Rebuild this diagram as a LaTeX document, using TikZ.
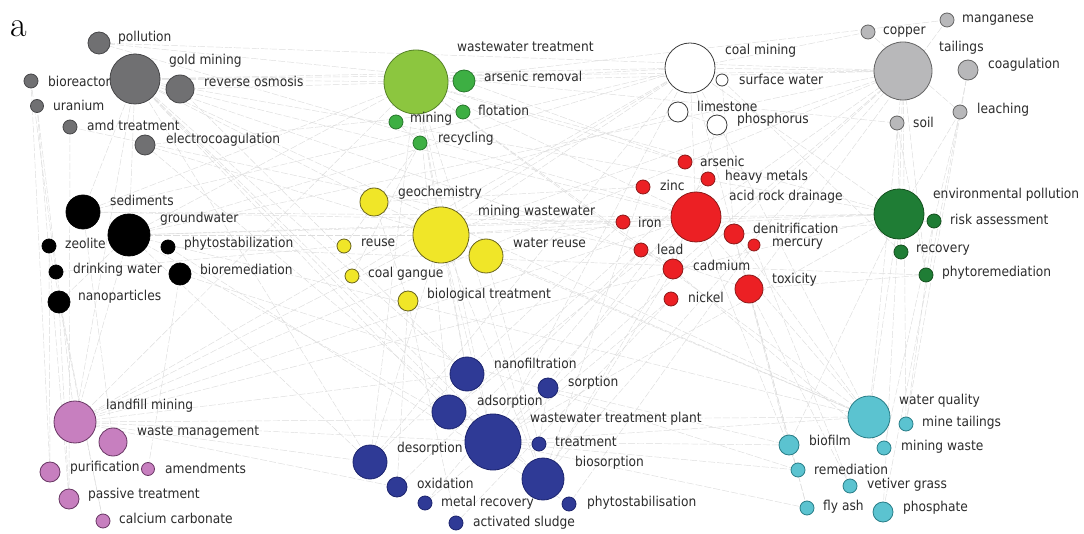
\documentclass[tikz,border=0pt]{standalone}
\usepackage{fontspec}
\setsansfont{DejaVu Sans}[FakeStretch=0.9]
\definecolor{txt}{HTML}{2C2C2C}
\definecolor{edgec}{HTML}{DDDDDD}
\tikzset{
  kw/.style={circle,inner sep=0pt,outer sep=0pt,line width=0.8pt},
  lab/.style={anchor=west,inner sep=0pt,text=txt,font=\sffamily\fontsize{13.6}{15}\selectfont},
  edge/.style={draw=edgec,line width=0.45pt,dash pattern=on 7pt off 2pt},
  gy/.style={kw,fill={rgb,255:red,112;green,112;blue,114},draw={rgb,255:red,70;green,70;blue,72}},
  lgn/.style={kw,fill={rgb,255:red,140;green,198;blue,63},draw={rgb,255:red,85;green,130;blue,40}},
  mgn/.style={kw,fill={rgb,255:red,61;green,175;blue,67},draw={rgb,255:red,40;green,120;blue,45}},
  wh/.style={kw,fill=white,draw={rgb,255:red,60;green,60;blue,60}},
  lgy/.style={kw,fill={rgb,255:red,184;green,184;blue,186},draw={rgb,255:red,100;green,100;blue,100}},
  bk/.style={kw,fill=black,draw=black},
  ye/.style={kw,fill={rgb,255:red,240;green,230;blue,40},draw={rgb,255:red,105;green,100;blue,30}},
  rd/.style={kw,fill={rgb,255:red,236;green,32;blue,36},draw={rgb,255:red,140;green,25;blue,25}},
  dg/.style={kw,fill={rgb,255:red,31;green,125;blue,53},draw={rgb,255:red,20;green,80;blue,30}},
  pk/.style={kw,fill={rgb,255:red,199;green,127;blue,191},draw={rgb,255:red,105;green,55;blue,100}},
  bl/.style={kw,fill={rgb,255:red,47;green,58;blue,150},draw={rgb,255:red,28;green,36;blue,110}},
  cy/.style={kw,fill={rgb,255:red,91;green,195;blue,208},draw={rgb,255:red,40;green,125;blue,135}}
}
% name, x, y, diameter, style, label, lx, ly
\newcommand{\kwnode}[8]{%
  \node[#5,minimum size=#4pt] (#1) at (#2,#3) {};
  \node[lab] (#1-l) at (#7,#8) {#6};}
\begin{document}
\begin{tikzpicture}[x=1pt,y=-1pt]
\useasboundingbox[fill=white] (0,0) rectangle (1084,534);
% ---- node coordinates (drawn after edges) ----
\path
 (99,43) coordinate (poll) (135,79) coordinate (gold) (31,81) coordinate (biore)
 (180,89) coordinate (revo) (37,106) coordinate (uran) (70,127) coordinate (amd)
 (145,145) coordinate (elco)
 (416,82) coordinate (wwt) (464,81) coordinate (arsr) (463,112) coordinate (flot)
 (396,122) coordinate (mini) (420,143) coordinate (recy)
 (690,68) coordinate (coal) (722,80) coordinate (surf) (678,112) coordinate (lime)
 (717,125) coordinate (phos)
 (868,32) coordinate (copp) (947,20) coordinate (mang) (903,71) coordinate (tail)
 (968,70) coordinate (coag) (960,112) coordinate (leac) (897,123) coordinate (soil)
 (83,212) coordinate (sedi) (129,235) coordinate (grou) (49,246) coordinate (zeol)
 (168,247) coordinate (phst) (56,272) coordinate (drin) (180,274) coordinate (biorem)
 (59,302) coordinate (nano)
 (374,202) coordinate (geoc) (441,235) coordinate (mww) (344,246) coordinate (reus)
 (486,256) coordinate (wreu) (352,276) coordinate (gang) (408,301) coordinate (biot)
 (685,162) coordinate (arse) (708,179) coordinate (heav) (643,187) coordinate (zinc)
 (696,217) coordinate (ard) (623,222) coordinate (iron) (734,234) coordinate (deni)
 (754,245) coordinate (merc) (641,250) coordinate (lead) (673,269) coordinate (cadm)
 (749,289) coordinate (toxi) (671,299) coordinate (nick)
 (899,214) coordinate (env) (934,221) coordinate (risk) (901,252) coordinate (reco)
 (926,275) coordinate (phyr)
 (75,422) coordinate (land) (113,442) coordinate (wman) (50,472) coordinate (puri)
 (148,469) coordinate (amen) (69,499) coordinate (pass) (103,521) coordinate (calc)
 (467,374) coordinate (nanf) (548,388) coordinate (sorp) (449,412) coordinate (adso)
 (493,442) coordinate (wtp) (539,444) coordinate (trea) (370,462) coordinate (deso)
 (543,479) coordinate (bios) (397,487) coordinate (oxid) (425,503) coordinate (metr)
 (569,504) coordinate (phsb) (456,523) coordinate (acts)
 (869,417) coordinate (wq) (906,424) coordinate (mtai) (789,445) coordinate (biof)
 (884,448) coordinate (mwas) (798,470) coordinate (reme) (850,486) coordinate (veti)
 (807,508) coordinate (flya) (883,512) coordinate (psph);
% ---- background co-occurrence links ----
\foreach \a/\bs in {
  gold/{wwt,coal,tail,ard,mww,grou,land,wtp,wq,env,sedi,bios,adso,nanf,deso,toxi},
  wwt/{coal,tail,mww,ard,wtp,wq,env,grou,bios,adso,deso,land,sedi,nanf,cadm},
  coal/{tail,mww,ard,env,wtp,wq,grou,gang,land,deso,biof,sedi},
  tail/{ard,env,wq,wtp,mww,mtai,grou,land,cadm,bios,phyr},
  mww/{ard,wtp,land,grou,wq,env,deso,bios,nanf},
  ard/{env,wtp,wq,grou,land,bios,adso,reme,sedi},
  env/{wq,wtp,land,grou,biof,psph},
  grou/{land,wtp,wq,deso,nano},
  land/{wtp,wq,nanf,deso,oxid},
  wtp/{wq,biof,reme,flya},
  poll/{soil,tail,ard},uran/{land,pass},biore/{puri,drin},elco/{flot,mww,bios},
  nano/{pass,calc},heav/{adso,sorp},toxi/{phyr,veti},copp/{leac,coal},
  coag/{psph,mtai},mang/{toxi,wwt},risk/{mtai,mwas},zinc/{bios,geoc},
  arse/{arsr,wwt},iron/{deso,wreu},reus/{drin,recy},geoc/{lime,biot},
  sorp/{biof,trea},nick/{acts,metr},recy/{gang,mini},surf/{reco,deni},
  phos/{cadm,lime},merc/{veti,phsb},flya/{deni,toxi},biorem/{amen,reme},
  zeol/{calc,puri},revo/{nanf,arsr},amd/{pass,lead},phst/{phsb,phyr},
  sedi/{wman,iron},soil/{reco,phyr},leac/{risk,env},lead/{metr,oxid},
  wreu/{trea,wq},biot/{oxid,acts},cadm/{bios,mwas},deni/{wq,risk}}
  {\foreach \b in \bs {\draw[edge] (\a) -- (\b);}}
% ---- gray cluster ----
\kwnode{poll}{99}{43}{22}{gy}{pollution}{118}{38}
\kwnode{gold}{135}{79}{50}{gy}{gold mining}{169}{61}
\kwnode{biore}{31}{81}{14}{gy}{bioreactor}{48}{81}
\kwnode{revo}{180}{89}{28}{gy}{reverse osmosis}{204}{81}
\kwnode{uran}{37}{106}{13}{gy}{uranium}{53}{105}
\kwnode{amd}{70}{127}{14}{gy}{amd treatment}{87}{125}
\kwnode{elco}{145}{145}{20}{gy}{electrocoagulation}{166}{140}
% ---- light green cluster ----
\kwnode{wwt}{416}{82}{64}{lgn}{wastewater treatment}{457}{47}
\kwnode{arsr}{464}{81}{22}{mgn}{arsenic removal}{484}{76}
\kwnode{flot}{463}{112}{14}{mgn}{flotation}{478}{110}
\kwnode{mini}{396}{122}{14}{mgn}{mining}{410}{119}
\kwnode{recy}{420}{143}{14}{mgn}{recycling}{438}{139}
% ---- white cluster ----
\kwnode{coal}{690}{68}{50}{wh}{coal mining}{725}{51}
\kwnode{surf}{722}{80}{12}{wh}{surface water}{739}{79}
\kwnode{lime}{678}{112}{20}{wh}{limestone}{697}{106}
\kwnode{phos}{717}{125}{20}{wh}{phosphorus}{737}{120}
% ---- light gray cluster ----
\kwnode{copp}{868}{32}{14}{lgy}{copper}{883}{32}
\kwnode{mang}{947}{20}{14}{lgy}{manganese}{962}{20}
\kwnode{tail}{903}{71}{58}{lgy}{tailings}{939}{48}
\kwnode{coag}{968}{70}{20}{lgy}{coagulation}{988}{65}
\kwnode{leac}{960}{112}{14}{lgy}{leaching}{977}{110}
\kwnode{soil}{897}{123}{14}{lgy}{soil}{913}{122}
% ---- black cluster ----
\kwnode{sedi}{83}{212}{34}{bk}{sediments}{110}{200}
\kwnode{grou}{129}{235}{42}{bk}{groundwater}{160}{219}
\kwnode{zeol}{49}{246}{14}{bk}{zeolite}{65}{243}
\kwnode{phst}{168}{247}{14}{bk}{phytostabilization}{184}{244}
\kwnode{drin}{56}{272}{14}{bk}{drinking water}{73}{270}
\kwnode{biorem}{180}{274}{22}{bk}{bioremediation}{200}{269}
\kwnode{nano}{59}{302}{22}{bk}{nanoparticles}{78}{297}
% ---- yellow cluster ----
\kwnode{geoc}{374}{202}{28}{ye}{geochemistry}{398}{193}
\kwnode{mww}{441}{235}{56}{ye}{mining wastewater}{478}{212}
\kwnode{reus}{344}{246}{14}{ye}{reuse}{361}{243}
\kwnode{wreu}{486}{256}{34}{ye}{water reuse}{513}{243}
\kwnode{gang}{352}{276}{14}{ye}{coal gangue}{368}{274}
\kwnode{biot}{408}{301}{20}{ye}{biological treatment}{427}{295}
% ---- red cluster ----
\kwnode{arse}{685}{162}{14}{rd}{arsenic}{700}{161}
\kwnode{heav}{708}{179}{14}{rd}{heavy metals}{725}{177}
\kwnode{zinc}{643}{187}{14}{rd}{zinc}{660}{185}
\kwnode{ard}{696}{217}{50}{rd}{acid rock drainage}{729}{197}
\kwnode{iron}{623}{222}{14}{rd}{iron}{638}{222}
\kwnode{deni}{734}{234}{20}{rd}{denitrification}{753}{228}
\kwnode{merc}{754}{245}{12}{rd}{mercury}{772}{244}
\kwnode{lead}{641}{250}{14}{rd}{lead}{657}{249}
\kwnode{cadm}{673}{269}{20}{rd}{cadmium}{693}{265}
\kwnode{toxi}{749}{289}{28}{rd}{toxicity}{772}{280}
\kwnode{nick}{671}{299}{14}{rd}{nickel}{688}{297}
% ---- dark green cluster ----
\kwnode{env}{899}{214}{50}{dg}{environmental pollution}{933}{195}
\kwnode{risk}{934}{221}{14}{dg}{risk assessment}{950}{219}
\kwnode{reco}{901}{252}{14}{dg}{recovery}{916}{250}
\kwnode{phyr}{926}{275}{14}{dg}{phytoremediation}{942}{273}
% ---- pink cluster ----
\kwnode{land}{75}{422}{42}{pk}{landfill mining}{106}{406}
\kwnode{wman}{113}{442}{28}{pk}{waste management}{137}{432}
\kwnode{puri}{50}{472}{20}{pk}{purification}{70}{468}
\kwnode{amen}{148}{469}{13}{pk}{amendments}{165}{468}
\kwnode{pass}{69}{499}{20}{pk}{passive treatment}{88}{495}
\kwnode{calc}{103}{521}{14}{pk}{calcium carbonate}{119}{518}
% ---- blue cluster ----
\kwnode{nanf}{467}{374}{34}{bl}{nanofiltration}{494}{363}
\kwnode{sorp}{548}{388}{20}{bl}{sorption}{568}{383}
\kwnode{adso}{449}{412}{34}{bl}{adsorption}{477}{402}
\kwnode{wtp}{493}{442}{56}{bl}{wastewater treatment plant}{530}{419}
\kwnode{trea}{539}{444}{14}{bl}{treatment}{555}{442}
\kwnode{deso}{370}{462}{34}{bl}{desorption}{397}{449}
\kwnode{bios}{543}{479}{42}{bl}{biosorption}{575}{463}
\kwnode{oxid}{397}{487}{20}{bl}{oxidation}{417}{483}
\kwnode{metr}{425}{503}{14}{bl}{metal recovery}{441}{503}
\kwnode{phsb}{569}{504}{14}{bl}{phytostabilisation}{587}{503}
\kwnode{acts}{456}{523}{14}{bl}{activated sludge}{473}{523}
% ---- cyan cluster ----
\kwnode{wq}{869}{417}{42}{cy}{water quality}{899}{401}
\kwnode{mtai}{906}{424}{14}{cy}{mine tailings}{922}{423}
\kwnode{biof}{789}{445}{20}{cy}{biofilm}{809}{440}
\kwnode{mwas}{884}{448}{14}{cy}{mining waste}{901}{447}
\kwnode{reme}{798}{470}{14}{cy}{remediation}{814}{469}
\kwnode{veti}{850}{486}{14}{cy}{vetiver grass}{867}{485}
\kwnode{flya}{807}{508}{14}{cy}{fly ash}{823}{507}
\kwnode{psph}{883}{512}{20}{cy}{phosphate}{903}{508}
% ---- panel letter ----
\node[inner sep=0pt,font=\rmfamily\fontsize{36}{36}\selectfont] (panel) at (19,29) {a};
\end{tikzpicture}
\end{document}
